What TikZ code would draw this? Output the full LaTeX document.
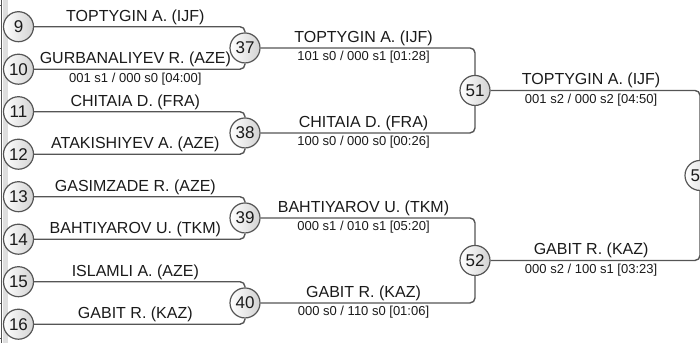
\documentclass[tikz,border=0pt]{standalone}
\usepackage{fontspec}
\setmainfont{Liberation Sans}
\usepackage{xcolor}
\usetikzlibrary{positioning}
\usetikzlibrary{calc}
\definecolor{linegray}{HTML}{555555}
\definecolor{bandgray}{HTML}{DEDEDE}
\definecolor{inkgray}{HTML}{1A1A1A}

\begin{document}
\begin{tikzpicture}[x=1pt,y=1pt,node distance=42.5pt,
  seed node/.style={circle,draw=linegray,line width=1.2pt,left color=white,right color=gray!35,
    minimum size=30pt,inner sep=0pt,text=inkgray,font=\fontsize{17}{19}\selectfont},
  line/.style={draw=linegray,line width=1.4pt,rounded corners=5pt},
  bracket/.style={to path={-| (\tikztotarget) \tikztonodes}},
  fighter label/.style={pos=.24,anchor=base,yshift=5.5pt,text=inkgray,font=\fontsize{16}{18}\selectfont},
  score label/.style={pos=.24,anchor=base,yshift=-13pt,text=inkgray,font=\fontsize{13}{15}\selectfont}]

  \useasboundingbox (0,0) rectangle (700,-343);
  \fill[bandgray] (2.5,0) rectangle (8,-343);
  \draw[linegray,line width=1pt] (1.5,0) -- (1.5,-343);
  \foreach \y in {5,48,90.5,133,175.5,218,260.5,303,338}
    \draw[linegray,line width=1pt] (0,-\y) -- (1.5,-\y);

  \node[seed node] (9) at (18.5,-26.7) {9};
  \node[seed node] (10) [below of=9] {10};
  \node[seed node] (11) [below of=10] {11};
  \node[seed node] (12) [below of=11] {12};
  \node[seed node] (13) [below of=12] {13};
  \node[seed node] (14) [below of=13] {14};
  \node[seed node] (15) [below of=14] {15};
  \node[seed node] (16) [below of=15] {16};

  \node[seed node] (37) at ($(9)!.5!(10)+(226.5,0)$) {37};
  \node[seed node] (38) at ($(11)!.5!(12)+(226.5,0)$) {38};
  \node[seed node] (39) at ($(13)!.5!(14)+(226.5,0)$) {39};
  \node[seed node] (40) at ($(15)!.5!(16)+(226.5,0)$) {40};

  \node[seed node] (51) at ($(37)!.5!(38)+(230,0)$) {51};
  \node[seed node] (52) at ($(39)!.5!(40)+(230,0)$) {52};

  \node[seed node] (53) at ($(51)!.5!(52)+(225,0)$) {53};

  \path[line]
    (9) edge[bracket] node[fighter label] {TOPTYGIN A. (IJF)} (37)
    (10) edge[bracket] node[fighter label] {GURBANALIYEV R. (AZE)}
      node[score label] {001 s1 / 000 s0 [04:00]} (37)
    (11) edge[bracket] node[fighter label] {CHITAIA D. (FRA)} (38)
    (12) edge[bracket] node[fighter label] {ATAKISHIYEV A. (AZE)} (38)
    (13) edge[bracket] node[fighter label] {GASIMZADE R. (AZE)} (39)
    (14) edge[bracket] node[fighter label] {BAHTIYAROV U. (TKM)} (39)
    (15) edge[bracket] node[fighter label] {ISLAMLI A. (AZE)} (40)
    (16) edge[bracket] node[fighter label] {GABIT R. (KAZ)} (40)
    (37) edge[bracket] node[fighter label] {TOPTYGIN A. (IJF)}
      node[score label] {101 s0 / 000 s1 [01:28]} (51)
    (38) edge[bracket] node[fighter label] {CHITAIA D. (FRA)}
      node[score label] {100 s0 / 000 s0 [00:26]} (51)
    (39) edge[bracket] node[fighter label] {BAHTIYAROV U. (TKM)}
      node[score label] {000 s1 / 010 s1 [05:20]} (52)
    (40) edge[bracket] node[fighter label] {GABIT R. (KAZ)}
      node[score label] {000 s0 / 110 s0 [01:06]} (52)
    (51) edge[bracket] node[fighter label] {TOPTYGIN A. (IJF)}
      node[score label] {001 s2 / 000 s2 [04:50]} (53)
    (52) edge[bracket] node[fighter label] {GABIT R. (KAZ)}
      node[score label] {000 s2 / 100 s1 [03:23]} (53);
\end{tikzpicture}
\end{document}
